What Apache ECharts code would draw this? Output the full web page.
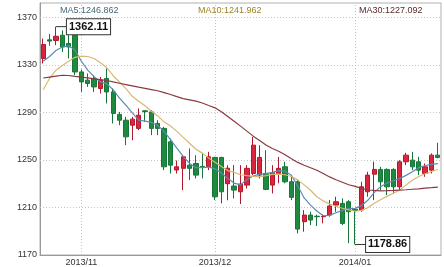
<!DOCTYPE html>
<html><head><meta charset="utf-8">
<script src="https://cdn.jsdelivr.net/npm/echarts@6/dist/echarts.min.js"></script>
<style>html,body{margin:0;padding:0;background:#fff}#c{width:444px;height:267px}</style>
</head><body><div id="c"></div>
<script>
const dates = ['2013/10/24','2013/10/25','2013/10/28','2013/10/29','2013/10/30','2013/10/31',
'2013/11/01','2013/11/04','2013/11/05','2013/11/06','2013/11/07','2013/11/08','2013/11/11','2013/11/12','2013/11/13','2013/11/14','2013/11/15','2013/11/18','2013/11/19','2013/11/20','2013/11/21','2013/11/22','2013/11/25','2013/11/26','2013/11/27','2013/11/28','2013/11/29',
'2013/12/02','2013/12/03','2013/12/04','2013/12/05','2013/12/06','2013/12/09','2013/12/10','2013/12/11','2013/12/12','2013/12/13','2013/12/16','2013/12/17','2013/12/18','2013/12/19','2013/12/20','2013/12/23','2013/12/24','2013/12/25','2013/12/26','2013/12/27','2013/12/30','2013/12/31',
'2014/01/02','2014/01/03','2014/01/06','2014/01/07','2014/01/08','2014/01/09','2014/01/10','2014/01/13','2014/01/14','2014/01/15','2014/01/16','2014/01/17','2014/01/20','2014/01/21'];

const opens = [1335.3,1351,1350.5,1354.9,1347.9,1354.9,1324,1317.1,1318.5,1310.1,
 1318.5,1307.2,1288.3,1283.4,1279.2,1276.5,1291.3,1290.4,1280.7,1276.5,
 1265.2,1241.5,1242.9,1245.6,1247,1244.5,1244.2,1252.1,1252.1,1230,
 1228,1223.2,1228.8,1238.6,1237.2,1238.6,1228.8,1238.6,1244.2,1231.6,
 1231.6,1198,1203.6,1202.6,1202.2,1203.6,1212,1213.4,1214.8,1208.5,
 1207.8,1223.2,1238,1242,1242,1242,1227.4,1248.4,1249.8,1248.4,
 1238.6,1241.4,1254];
const closes = [1347.1,1350,1354,1345,1345,1324,1315.6,1314.3,1311.4,1317.1,
 1307.2,1289.1,1283.4,1269.4,1284.3,1287.6,1290.6,1276.5,1276.5,1244.2,
 1245.6,1244.2,1252.6,1242.9,1237.2,1244.2,1252.6,1219,1223.2,1243,
 1224.6,1229.7,1242.9,1262.4,1252.1,1225.2,1239.2,1242.9,1231.6,1218.5,
 1191.8,1203.6,1199.4,1202.2,1202.5,1211.2,1214.8,1196.6,1206.4,1207.5,
 1227.4,1237.2,1242,1231.6,1227.4,1227.4,1248.4,1254,1244.2,1241.4,
 1244.2,1254,1252.1];
const lows = [1331.1,1346,1346.5,1340.8,1335.3,1321.3,1307.2,1311.4,1307.2,1305.9,
 1297.5,1280.7,1279.2,1262.4,1266.6,1275,1282,1270.8,1270.8,1241.4,
 1238.6,1238.5,1224.6,1233,1234.4,1234.4,1241.4,1216.2,1213.4,1216,
 1217.6,1212.9,1226,1237.2,1234.4,1224.6,1221.8,1230.3,1230.3,1216.2,
 1188.2,1189.6,1195.2,1194.4,1196.6,1202.2,1206.4,1195.2,1180,1178.86,
 1206.4,1219,1216.2,1224.6,1220.4,1221.8,1224.6,1245.6,1241.4,1237.2,
 1235.8,1238.6,1251.3];
const highs = [1352.1,1356,1362.11,1359,1360,1356.3,1326,1322.7,1321.3,1319.8,
 1326.9,1310.1,1290.4,1286.2,1286.2,1293.3,1291.8,1291.8,1283.4,1277.8,
 1268,1249.5,1254,1259.6,1254,1255.5,1256.8,1252.6,1252.6,1245.5,
 1245.6,1245.6,1245.6,1269.4,1262.4,1258.2,1245.6,1252.6,1248.4,1237.2,
 1233,1207.8,1206.4,1204,1204.2,1216.2,1219,1217.6,1216.2,1209.5,
 1231.6,1240,1248.4,1244.2,1242.9,1243,1249.8,1256,1256.8,1252.6,
 1247,1255.5,1264.4];

const ma5 = [1333,1337,1342,1345,1346,1342.5,1333,1325.5,1320,1315.6,
 1314,1309,1302,1296,1289.5,1283.5,1282.6,1281.5,1279,1274,
 1267,1260,1253,1247,1243.5,1243.5,1244,1242.5,1239,1234.4,
 1230.5,1229,1233.5,1236.5,1238,1238.5,1239.5,1241,1240.5,1237,
 1228,1218,1212,1207,1203,1203.3,1205.5,1207.5,1209,1209.2,
 1211.5,1216,1222.5,1227.5,1230.5,1232.5,1234.2,1237,1240,1243.5,
 1245.3,1246.3,1246.862];
const ma10 = [1309,1318.5,1325.5,1329.5,1333,1336.3,1337.3,1337,1335.3,1331.8,
 1327.5,1320.8,1315.3,1310,1303.5,1299.3,1295.5,1291,1287,1282,
 1278.5,1274,1269,1264,1259,1255.7,1251.5,1248,1244.5,1241,
 1239.5,1237.5,1236.8,1236.2,1236,1236.8,1237.8,1238,1237.5,1236,
 1233.2,1229,1224.5,1219,1215.5,1213,1211,1209.3,1208,1206.8,
 1207.5,1209.8,1213.5,1216.5,1219.3,1222,1224.6,1228.8,1232.8,1236,
 1238.3,1240.2,1241.962];
const ma30 = [1318.9,1319.7,1320.5,1321.2,1321,1320.3,1319.7,1319,1318.2,1317.5,
 1316.8,1315.6,1314.5,1313.4,1312.3,1311.2,1310.2,1309.2,1308.2,1306.6,
 1305,1303.2,1301.6,1300.5,1299.4,1297.9,1295.8,1293.8,1290.5,1286.6,
 1282.6,1278.4,1274.2,1270,1266.4,1262.6,1259.6,1257.3,1254.4,1251,
 1247.9,1245.5,1243.4,1241.3,1238.6,1235.7,1233.3,1231.2,1229.1,1227.7,
 1226.1,1224.7,1224.3,1224,1224.1,1224.3,1224.6,1224.9,1225.3,1225.7,
 1226.2,1226.6,1227.092];

const yTicks = [1170,1210,1250,1290,1330,1370];

const candles = dates.map((d, i) => [opens[i], closes[i], lows[i], highs[i]]);
const monthStarts = [];
dates.forEach((d, i) => { if (i > 0 && d.slice(0,7) !== dates[i-1].slice(0,7)) monthStarts.push(i); });

const FONT = 'Liberation Sans, Arial, sans-serif';
const gridLine = {color: '#c4c4c4', type: [1, 2], width: 1};
const boxLabel = {
  show: true, position: 'right', distance: 0,
  formatter: p => p.value.toFixed(2),
  color: '#111', fontSize: 11, fontWeight: 'bold',
  fontFamily: FONT,
  backgroundColor: '#fff', borderColor: '#333', borderWidth: 1,
  padding: [2, 2, 1, 2], lineHeight: 12
};

const chart = echarts.init(document.getElementById('c'), null, {renderer: 'canvas'});
chart.setOption({
  animation: false,
  backgroundColor: '#fff',
  title: [
    {text: 'MA5:' + ma5[ma5.length-1].toFixed(3), left: 60, top: 6, padding: 0,
     textStyle: {fontSize: 9, fontWeight: 'normal', color: '#46687a', fontFamily: FONT}},
    {text: 'MA10:' + ma10[ma10.length-1].toFixed(3), left: 198, top: 6, padding: 0,
     textStyle: {fontSize: 9, fontWeight: 'normal', color: '#9a8424', fontFamily: FONT}},
    {text: 'MA30:' + ma30[ma30.length-1].toFixed(3), left: 359, top: 6, padding: 0,
     textStyle: {fontSize: 9, fontWeight: 'normal', color: '#5a2a2a', fontFamily: FONT}}
  ],
  grid: {left: 40, right: 3, top: 3, bottom: 12, show: true, borderColor: '#b0b0b0', borderWidth: 1},
  xAxis: {
    type: 'category', data: dates, boundaryGap: true,
    axisLine: {show: true, lineStyle: {color: '#999'}},
    axisTick: {show: false},
    splitLine: {show: false},
    axisLabel: {
      interval: (i) => monthStarts.includes(i),
      formatter: v => v.slice(0, 7),
      fontSize: 9, color: '#333', margin: 3, fontFamily: FONT
    }
  },
  yAxis: {
    type: 'value', min: 1170, max: 1382, interval: 10, scale: true,
    axisLine: {show: true, lineStyle: {color: '#999'}},
    axisTick: {show: false},
    splitLine: {show: false},
    axisLabel: {
      formatter: v => { const r = Math.round(v); return (Math.abs(v - r) < 1e-6 && yTicks.includes(r)) ? String(r) : ''; },
      fontSize: 9, color: '#333', margin: 3, fontFamily: FONT
    }
  },
  series: [
    {
      type: 'candlestick', data: candles, barWidth: 4.8, z: 2,
      itemStyle: {color: '#d9263c', color0: '#1e8a3e', borderColor: '#b5172d', borderColor0: '#16763a', borderWidth: 1},
      markLine: {
        silent: true, symbol: ['none', 'none'], z: 1, animation: false,
        label: {show: false}, lineStyle: gridLine, emphasis: {disabled: true},
        data: yTicks.filter(v => v > 1170).map(v => ({yAxis: v}))
          .concat(monthStarts.map(i => ({xAxis: dates[i]})))
      },
      markPoint: {
        symbol: 'rect', symbolSize: [11, 1], symbolOffset: [5.5, 0],
        itemStyle: {color: '#333'}, label: boxLabel, animation: false,
        data: [
          {type: 'max', valueDim: 'highest'},
          {type: 'min', valueDim: 'lowest'}
        ]
      }
    },
    {type: 'line', name: 'MA5', data: ma5, showSymbol: false, z: 3, lineStyle: {color: '#5a8db3', width: 1.2}, itemStyle: {color: '#5a8db3'}},
    {type: 'line', name: 'MA10', data: ma10, showSymbol: false, z: 3, lineStyle: {color: '#d9b874', width: 1.2}, itemStyle: {color: '#d9b874'}},
    {type: 'line', name: 'MA30', data: ma30, showSymbol: false, z: 3, lineStyle: {color: '#8a3a3e', width: 1.2}, itemStyle: {color: '#8a3a3e'}}
  ]
});
</script>
</body></html>
